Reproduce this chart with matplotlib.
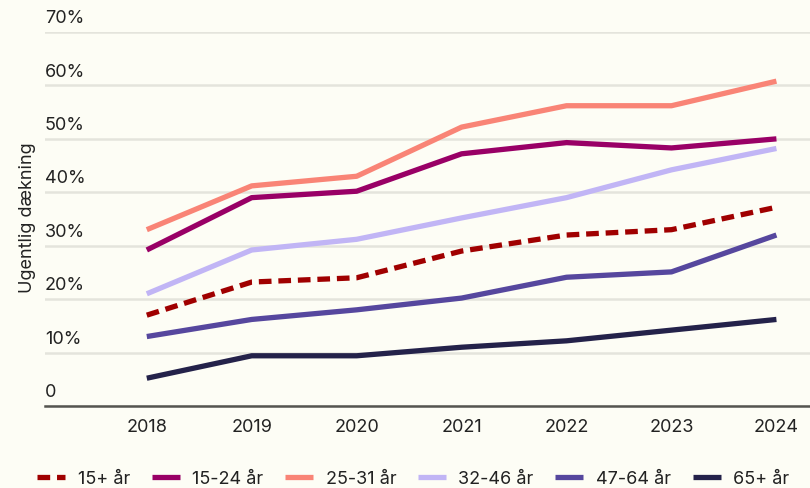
import numpy as np
import matplotlib.pyplot as plt

plt.rcParams['font.family'] = ['Inter', 'DejaVu Sans']

years = [2018, 2019, 2020, 2021, 2022, 2023, 2024]
series_names = ["15+ år", "15-24 år", "25-31 år", "32-46 år", "47-64 år", "65+ år"]
v_15plus = [17, 23.2, 24, 29, 32, 33, 37.2]
v_15_24 = [29.2, 39, 40.2, 47.2, 49.3, 48.3, 50]
v_25_31 = [33, 41.2, 43, 52.2, 56.2, 56.2, 60.8]
v_32_46 = [21, 29.2, 31.2, 35.2, 39, 44.2, 48.2]
v_47_64 = [13, 16.2, 18, 20.2, 24.1, 25.1, 32]
v_65plus = [5.2, 9.4, 9.4, 11, 12.2, 14.2, 16.2]
yticks = [0, 10, 20, 30, 40, 50, 60, 70]
ytick_labels = ["0", "10%", "20%", "30%", "40%", "50%", "60%", "70%"]

values = [v_15plus, v_15_24, v_25_31, v_32_46, v_47_64, v_65plus]
colors = ["#a00000", "#990066", "#f98476", "#c1b5f5", "#56479e", "#24224a"]
styles = [(0, (2.4, 1.3)), "-", "-", "-", "-", "-"]

bg = "#fdfdf5"
fig = plt.figure(figsize=(8.1, 4.88), dpi=100, facecolor=bg)
ax = fig.add_axes([45 / 810, 82 / 488, 765 / 810, 374 / 488])
ax.set_facecolor(bg)

for name, vals, c, ls in zip(series_names, values, colors, styles):
    ax.plot(years, vals, color=c, linestyle=ls, linewidth=3.8, label=name,
            solid_capstyle='butt', dash_capstyle='butt', clip_on=False)

ax.set_xlim(2017.03, 2024.32)
ax.set_ylim(0, 70)
ax.set_yticks(yticks)
ax.yaxis.grid(True, color="#e4e4dc", linewidth=1.8)
ax.set_axisbelow(True)
ax.tick_params(axis='y', length=0, labelleft=False)
for v, lab in zip(yticks, ytick_labels):
    ax.text(0, v + 0.9, lab, transform=ax.get_yaxis_transform(), ha='left',
            va='bottom', fontsize=13, color="#222222")

ax.set_xticks(years)
ax.tick_params(axis='x', length=0, pad=9, labelsize=13, labelcolor="#222222")

for s in ['top', 'right', 'left']:
    ax.spines[s].set_visible(False)
ax.spines['bottom'].set_color("#555550")
ax.spines['bottom'].set_linewidth(1.8)

fig.text(28 / 810, 1 - 218 / 488, "Ugentlig dækning", rotation=90, ha='center',
         va='center', fontsize=13, color="#222222")

leg = fig.legend(loc='center left', bbox_to_anchor=(37 / 810, 1 - 479 / 488),
                 ncol=6, frameon=False, fontsize=13, handlelength=1.55,
                 handletextpad=0.7, columnspacing=1.2, borderaxespad=0,
                 borderpad=0)
for t in leg.get_texts():
    t.set_color("#222222")

fig.savefig("out.png", dpi=100, facecolor=bg)
